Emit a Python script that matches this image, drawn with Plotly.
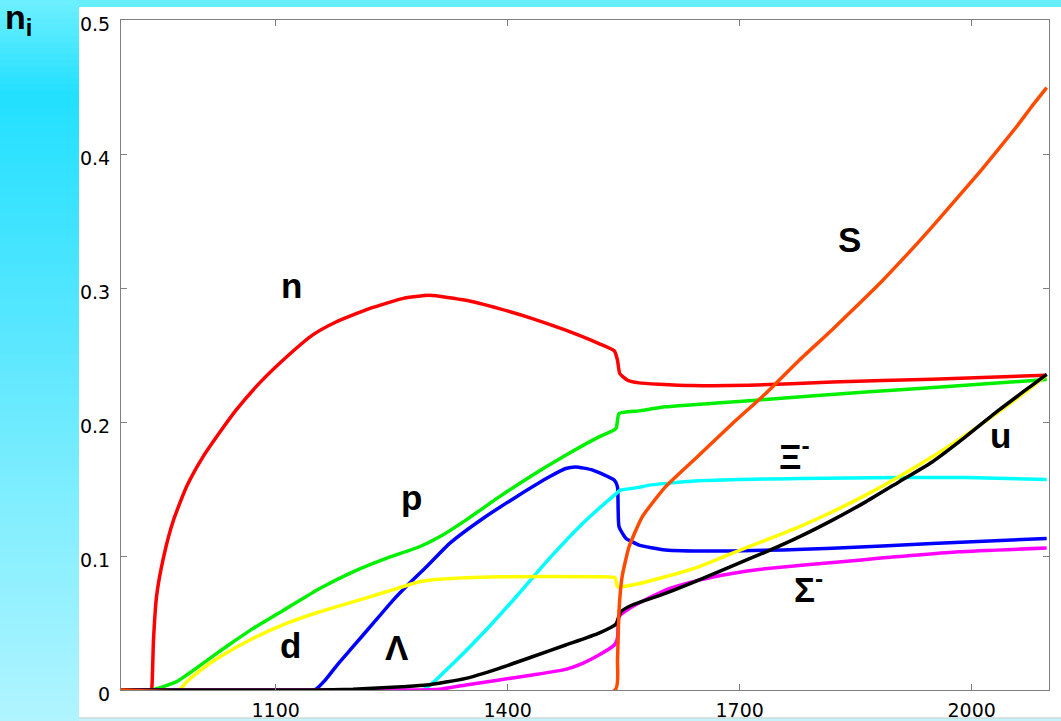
import plotly.graph_objects as go

# ---- particle number fractions vs. baryon chemical potential ----
x_n = [900, 939, 940, 942, 946, 955, 968, 985, 1006, 1028, 1049, 1079, 1114, 1148, 1178, 1221, 1264, 1299,
       1346, 1389, 1432, 1475, 1518, 1538, 1542, 1545, 1555, 1570, 1596, 1639, 1712, 1820, 1949, 2097]
y_n = [0, 0, 0.0025, 0.037, 0.070, 0.099, 0.127, 0.152, 0.174, 0.1925, 0.209, 0.229, 0.2485, 0.265, 0.2746,
       0.2846, 0.2921, 0.2945, 0.2908, 0.2846, 0.2772, 0.2685, 0.2585, 0.253, 0.2461, 0.2362, 0.2312, 0.2292,
       0.2282, 0.2272, 0.2274, 0.2299, 0.2319, 0.2349]

x_p = [900, 940, 972, 985, 1006, 1036, 1071, 1114, 1157, 1200, 1243, 1286, 1312, 1346, 1389, 1432, 1475,
       1518, 1540, 1544, 1570, 1604, 1721, 1863, 1992, 2097]
y_p = [0, 0, 0.0062, 0.0112, 0.0199, 0.0323, 0.046, 0.0609, 0.0758, 0.0882, 0.0982, 0.1069, 0.1143, 0.1268,
       0.1441, 0.1603, 0.1752, 0.1889, 0.1951, 0.2063, 0.2083, 0.2113, 0.2163, 0.2224, 0.2274, 0.2317]

x_d = [900, 975, 985, 1006, 1028, 1071, 1114, 1157, 1200, 1243, 1286, 1312, 1389, 1518, 1539, 1542, 1561,
       1604, 1647, 1690, 1734, 1777, 1820, 1863, 1906, 1949, 1992, 2035, 2078, 2097]
y_d = [0, 0, 0.0062, 0.0162, 0.0248, 0.0386, 0.0497, 0.0584, 0.0658, 0.0733, 0.0808, 0.0826, 0.0845, 0.0845,
       0.0837, 0.077, 0.0783, 0.0845, 0.0919, 0.1019, 0.1119, 0.1218, 0.133, 0.1454, 0.1591, 0.174, 0.1902,
       0.2075, 0.2262, 0.2349]

x_lam = [900, 1150, 1165, 1180, 1200, 1226, 1252, 1273, 1295, 1325, 1368, 1411, 1454, 1475, 1488,
         1510, 1538, 1542, 1544, 1553, 1561, 1570, 1604, 1690, 1820, 1949, 2097]
y_lam = [0, 0, 0.008, 0.019, 0.0323, 0.0497, 0.0671, 0.0796, 0.0919, 0.1094, 0.128, 0.1441,
         0.1591, 0.1653, 0.1665, 0.1641, 0.1566, 0.1516, 0.1218, 0.1131, 0.1106, 0.1081, 0.1044, 0.1037,
         0.1057, 0.1094, 0.1131]

x_xi = [900, 1290, 1325, 1368, 1411, 1454, 1497, 1538, 1546, 1570, 1583, 1647, 1777, 1906, 1992, 2097]
y_xi = [0, 0, 0.0174, 0.0423, 0.0696, 0.0982, 0.1243, 0.1454, 0.1491, 0.1512, 0.1529, 0.1561, 0.1579,
        0.1586, 0.1586, 0.1571]

x_sig = [900, 1290, 1312, 1346, 1389, 1432, 1475, 1497, 1518, 1538, 1542, 1544, 1561, 1604, 1647, 1690,
         1725, 1854, 1983, 2097]
y_sig = [0, 0, 0.0005, 0.0037, 0.0075, 0.0112, 0.0154, 0.0199, 0.0261, 0.0336, 0.0386, 0.0547, 0.0621,
         0.0746, 0.082, 0.0870, 0.0900, 0.0969, 0.1031, 0.1059]

x_u = [900, 1150, 1200, 1264, 1295, 1346, 1389, 1432, 1475, 1518, 1540, 1546, 1561, 1604, 1647, 1690, 1734,
       1777, 1820, 1863, 1906, 1949, 1992, 2035, 2078, 2097]
y_u = [0, 0, 0.0005, 0.0025, 0.0037, 0.0087, 0.0162, 0.0248, 0.0336, 0.0425, 0.0492, 0.0582, 0.0634,
       0.0721, 0.082, 0.0925, 0.1031, 0.1143, 0.1268, 0.1404, 0.1553, 0.1702, 0.1889, 0.2088, 0.2274, 0.2356]

x_s = [900, 1539, 1542, 1544, 1548, 1557, 1574, 1604, 1647, 1690, 1734, 1777, 1819, 1851, 1884, 1916, 1948,
       1980, 2013, 2057, 2077, 2097]
y_s = [0, 0, 0.0224, 0.0597, 0.0845, 0.1069, 0.1292, 0.1516, 0.1750, 0.1985, 0.2215, 0.2461, 0.2685,
       0.2864, 0.3051, 0.3247, 0.3450, 0.3663, 0.3883, 0.4196, 0.4349, 0.4495]

# curve labels: text, x, y
label_text = ["n", "p", "d", "Λ", "Ξ<sup>-</sup>", "Σ<sup>-</sup>", "u", "S"]
label_x = [1120, 1276, 1119, 1257, 1771, 1789, 2037, 1842]
label_y = [0.302, 0.144, 0.033, 0.032, 0.176, 0.077, 0.190, 0.336]

x_ticks = [1100, 1400, 1700, 2000]
y_ticks = [0, 0.1, 0.2, 0.3, 0.4, 0.5]

series = [
    (x_n, y_n, "#ff0000"),
    (x_p, y_p, "#00f000"),
    (x_lam, y_lam, "#0000ff"),
    (x_xi, y_xi, "#00ffff"),
    (x_d, y_d, "#ffff00"),
    (x_sig, y_sig, "#ff00ff"),
    (x_u, y_u, "#000000"),
    (x_s, y_s, "#ff4a00"),
]

fig = go.Figure()
for xs, ys, col in series:
    fig.add_trace(go.Scatter(x=xs, y=ys, mode="lines",
                             line=dict(color=col, width=3.5, shape="spline", smoothing=0.5),
                             hoverinfo="skip"))

W, H = 1061, 721
L, R, T, B = 121, 12, 20, 31
PW, PH = W - L - R, H - T - B


def px(xp):
    return (xp - L) / PW


def py(yp):
    return (H - B - yp) / PH


shapes = []
# vertical colour ramp of the left band
stops = [(0, (110, 240, 255)), (95, (34, 224, 255)), (320, (86, 230, 255)),
         (500, (128, 238, 254)), (721, (176, 244, 255))]


def ramp(y):
    for (y0, c0), (y1, c1) in zip(stops[:-1], stops[1:]):
        if y0 <= y <= y1:
            t = (y - y0) / (y1 - y0)
            return "rgb(%d,%d,%d)" % tuple(round(a + (b - a) * t) for a, b in zip(c0, c1))
    return "rgb(%d,%d,%d)" % stops[-1][1]


step = 6
for yy in range(0, H, step):
    shapes.append(dict(type="rect", xref="paper", yref="paper", layer="below",
                       x0=px(0), x1=px(79), y0=py(yy), y1=py(min(yy + step + 1, H)),
                       fillcolor=ramp(yy + step / 2), line=dict(width=0)))
# top band
shapes.append(dict(type="rect", xref="paper", yref="paper", layer="below",
                   x0=px(79), x1=px(W), y0=py(0), y1=py(7),
                   fillcolor="#66eeff", line=dict(width=0)))
# white panel
shapes.append(dict(type="rect", xref="paper", yref="paper", layer="below",
                   x0=px(79), x1=px(W), y0=py(7), y1=py(718),
                   fillcolor="#ffffff", line=dict(width=0)))
# bottom strip
shapes.append(dict(type="rect", xref="paper", yref="paper", layer="above",
                   x0=px(79), x1=px(W), y0=py(718), y1=py(H),
                   fillcolor="#c4f4fa", line=dict(width=0)))
shapes.append(dict(type="line", xref="paper", yref="paper", layer="above",
                   x0=px(79), x1=px(W), y0=py(718), y1=py(718),
                   line=dict(color="#cfd8da", width=1.5)))

annotations = []
for t, lx, ly in zip(label_text, label_x, label_y):
    annotations.append(dict(x=lx, y=ly, xref="x", yref="y", text="<b>%s</b>" % t,
                            showarrow=False, xanchor="center", yanchor="middle",
                            font=dict(family="Liberation Sans", size=35, color="#000000")))
annotations.append(dict(x=px(4), y=py(-3), xref="paper", yref="paper",
                        text="<b>n<sub>i</sub></b>", showarrow=False, borderpad=0,
                        xanchor="left", yanchor="top",
                        font=dict(family="Liberation Sans", size=34, color="#000000")))

axis_common = dict(showgrid=False, zeroline=False, showline=True, linecolor="#808080",
                   linewidth=1.2, mirror="ticks", ticks="inside", ticklen=6,
                   tickcolor="#808080", tickwidth=1, automargin=False,
                   tickfont=dict(family="DejaVu Sans", size=19, color="#000000"))

fig.update_layout(
    width=W, height=H,
    margin=dict(l=L, r=R, t=T, b=B, pad=0, autoexpand=False),
    paper_bgcolor="#b0f2fc",
    plot_bgcolor="#ffffff",
    showlegend=False,
    shapes=shapes,
    annotations=annotations,
    xaxis=dict(range=[900, 2100], tickvals=x_ticks, ticklabelstandoff=3, **axis_common),
    yaxis=dict(range=[0, 0.5], tickvals=y_ticks, ticktext=[("%g" % v) for v in y_ticks],
               ticklabelstandoff=6, ticklabelshift=4, **axis_common),
)

fig.write_html("out.html")
